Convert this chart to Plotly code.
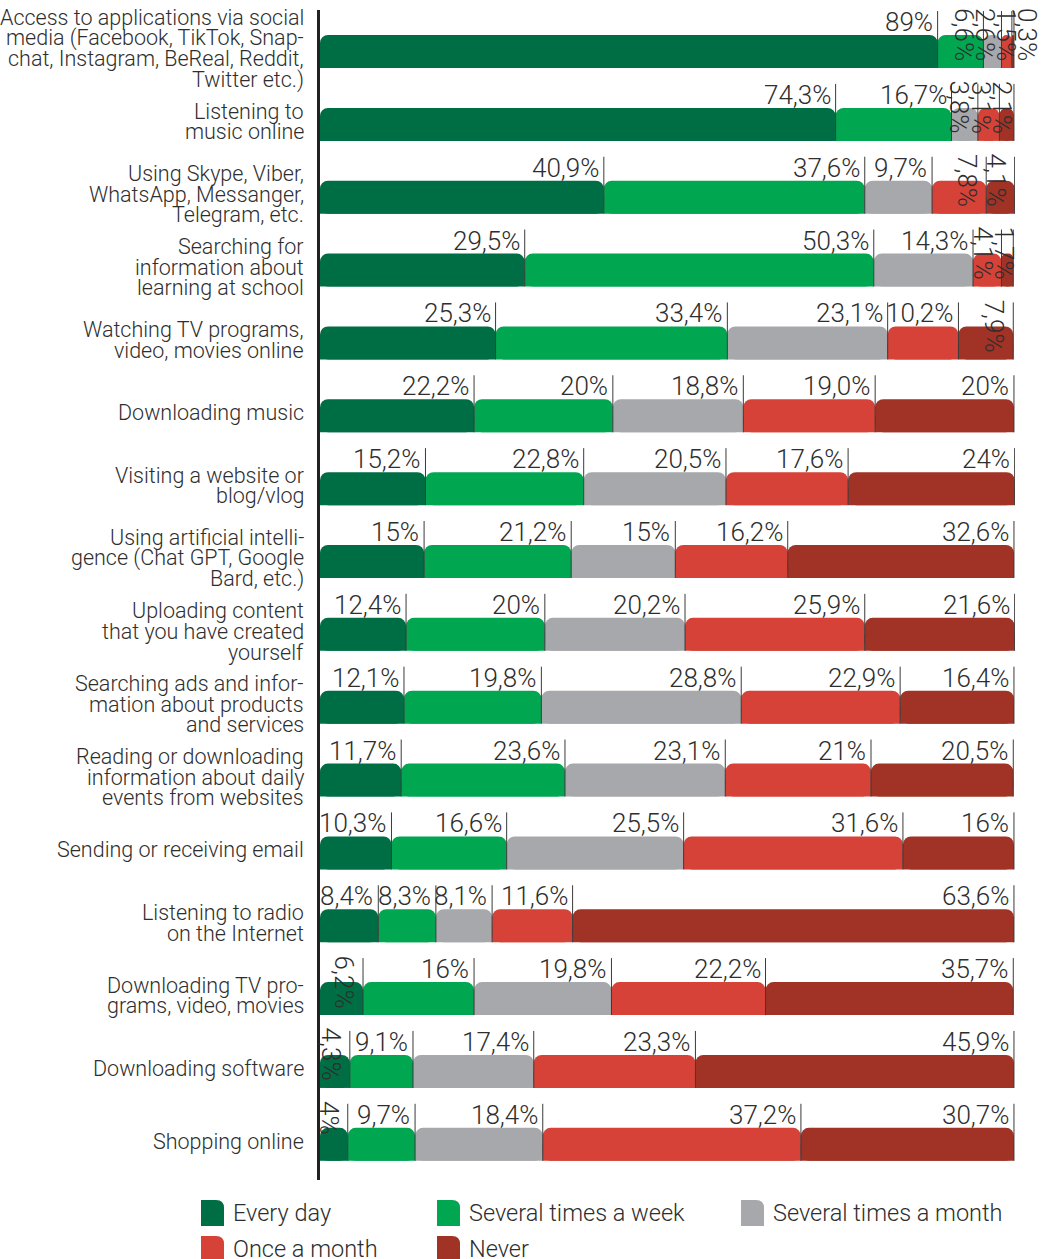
import plotly.graph_objects as go

# Activities (each entry is the list of lines of its label)
categories = [
    ["Access to applications via social", "media (Facebook, TikTok, Snap-",
     "chat, Instagram, BeReal, Reddit,", "Twitter etc.)"],
    ["Listening to", "music online"],
    ["Using Skype, Viber,", "WhatsApp, Messanger,", "Telegram, etc."],
    ["Searching for", "information about", "learning at school"],
    ["Watching TV programs,", "video, movies online"],
    ["Downloading music"],
    ["Visiting a website or", "blog/vlog"],
    ["Using artificial intelli-", "gence (Chat GPT, Google", "Bard, etc.)"],
    ["Uploading content", "that you have created", "yourself"],
    ["Searching ads and infor-", "mation about products", "and services"],
    ["Reading or downloading", "information about daily", "events from websites"],
    ["Sending or receiving email"],
    ["Listening to radio", "on the Internet"],
    ["Downloading TV pro-", "grams, video, movies"],
    ["Downloading software"],
    ["Shopping online"],
]

series_names = ["Every day", "Several times a week", "Several times a month",
                "Once a month", "Never"]

# Shares in percent, written as printed on the chart (comma decimals)
every_day = ["89", "74,3", "40,9", "29,5", "25,3", "22,2", "15,2", "15",
             "12,4", "12,1", "11,7", "10,3", "8,4", "6,2", "4,3", "4"]
several_week = ["6,6", "16,7", "37,6", "50,3", "33,4", "20", "22,8", "21,2",
                "20", "19,8", "23,6", "16,6", "8,3", "16", "9,1", "9,7"]
several_month = ["2,6", "3,8", "9,7", "14,3", "23,1", "18,8", "20,5", "15",
                 "20,2", "28,8", "23,1", "25,5", "8,1", "19,8", "17,4", "18,4"]
once_month = ["1,5", "3,1", "7,8", "4,1", "10,2", "19,0", "17,6", "16,2",
              "25,9", "22,9", "21", "31,6", "11,6", "22,2", "23,3", "37,2"]
never = ["0,3", "2,1", "4,1", "1,7", "7,9", "20", "24", "32,6",
         "21,6", "16,4", "20,5", "16", "63,6", "35,7", "45,9", "30,7"]

series_labels = [every_day, several_week, several_month, once_month, never]
colors = ["#006e44", "#00a650", "#a7a8ab", "#d64237", "#a13226"]

FONT = "Roboto"
TEXT_COLOR = "#2e2e2e"

# Plot-area geometry in pixels
W, H = 1045, 1259
X_MAX = 100.15
PL, PT, PW, PH = 320, 10, 695, 1170
Y_RANGE = [15.49, -0.57]
UNIT_PX = PH / (Y_RANGE[0] - Y_RANGE[1])
BAR_PX = 33
BAR_W = BAR_PX / UNIT_PX
TICK_UP = 24 / UNIT_PX


def to_num(s):
    return float(s.replace(",", "."))


rows = list(range(len(categories)))
values = [[to_num(s) for s in lab] for lab in series_labels]

fig = go.Figure()

bases = [0.0] * len(rows)
seg_ends = []
for k, (name, vals, col) in enumerate(zip(series_names, values, colors)):
    # full-height bar with a rounded end ...
    fig.add_trace(go.Bar(
        y=rows, x=vals, base=bases, orientation="h", name=name,
        width=BAR_W, offset=-BAR_W / 2,
        marker=dict(color=col, cornerradius=8, line=dict(width=0)),
        hoverinfo="skip", showlegend=False,
    ))
    # ... and a square lower half, so only the upper corner stays rounded
    fig.add_trace(go.Bar(
        y=rows, x=vals, base=bases, orientation="h", name=name,
        width=BAR_W / 2, offset=0,
        marker=dict(color=col, line=dict(width=0)),
        hoverinfo="skip", showlegend=False,
    ))
    bases = [b + v for b, v in zip(bases, vals)]
    seg_ends.append(list(bases))

# thin separator ticks at the end of every segment
sx, sy = [], []
for k in range(len(series_names)):
    for i in rows:
        e = seg_ends[k][i]
        sx += [e, e, None]
        sy += [i + BAR_W / 2, i - BAR_W / 2 - TICK_UP, None]
fig.add_trace(go.Scatter(x=sx, y=sy, mode="lines",
                         line=dict(color="#3a3a3a", width=1),
                         hoverinfo="skip", showlegend=False))

annotations = []

# value labels
for i in rows:
    prev_right = -1e9
    for k in range(len(series_names)):
        v = values[k][i]
        e = seg_ends[k][i]
        text = series_labels[k][i] + "%"
        end_px = PL + e / X_MAX * PW
        if v < 8:
            right_px = max(end_px - 2, prev_right + 21)
            prev_right = right_px
            annotations.append(dict(
                x=e, y=i - BAR_W / 2, xref="x", yref="y", text=text,
                showarrow=False, textangle=90, xanchor="right", yanchor="top",
                xshift=right_px - end_px, yshift=TICK_UP * UNIT_PX + 5,
                font=dict(family=FONT, size=26, color=TEXT_COLOR, weight=300),
            ))
        else:
            prev_right = end_px
            annotations.append(dict(
                x=e, y=i - BAR_W / 2, xref="x", yref="y", text=text,
                showarrow=False, xanchor="right", yanchor="bottom",
                xshift=-3, yshift=-4,
                font=dict(family=FONT, size=26, color=TEXT_COLOR, weight=300),
            ))

# category labels, one annotation per line for tight leading
LINE_PX = 20.7
for i, lines in zip(rows, categories):
    n = len(lines)
    for j, line in enumerate(lines):
        off = -3 + (j - (n - 1) / 2) * LINE_PX
        annotations.append(dict(
            x=0, y=i, xref="paper", yref="y", text=line, showarrow=False,
            xanchor="right", yanchor="middle", xshift=-14, yshift=-off,
            font=dict(family=FONT, size=21.5, color=TEXT_COLOR, weight=300),
        ))


def fx(px):
    return (px - PL) / PW


def fy(py):
    return (PT + PH - py) / PH


# legend drawn below the plot
shapes = []
legend_pos = [(201, 1200), (437, 1200), (741, 1200), (201, 1236), (437, 1236)]
for (lx, ly), name, col in zip(legend_pos, series_names, colors):
    x0, x1, yt, yb, r = lx, lx + 23, ly, ly + 26, 8
    path = (f"M {fx(x0)},{fy(yb)} L {fx(x0)},{fy(yt)} L {fx(x1 - r)},{fy(yt)} "
            f"Q {fx(x1)},{fy(yt)} {fx(x1)},{fy(yt + r)} L {fx(x1)},{fy(yb)} Z")
    shapes.append(dict(type="path", xref="paper", yref="paper", path=path,
                       fillcolor=col, line=dict(width=0)))
    annotations.append(dict(
        x=fx(lx + 30), y=fy(ly + 13), xref="paper", yref="paper", text=name,
        showarrow=False, xanchor="left", yanchor="middle",
        font=dict(family=FONT, size=23.5, color=TEXT_COLOR, weight=300),
    ))

fig.update_layout(
    width=W, height=H,
    margin=dict(l=PL, r=W - PL - PW, t=PT, b=H - PT - PH, pad=0),
    barmode="overlay",
    paper_bgcolor="white", plot_bgcolor="white",
    showlegend=False,
    xaxis=dict(range=[0, X_MAX], visible=False, fixedrange=True),
    yaxis=dict(range=Y_RANGE, showgrid=False, zeroline=False,
               showticklabels=False, ticks="", showline=True,
               linecolor="#222222", linewidth=3, fixedrange=True),
    annotations=annotations,
    shapes=shapes,
)

fig.write_html("out.html")
